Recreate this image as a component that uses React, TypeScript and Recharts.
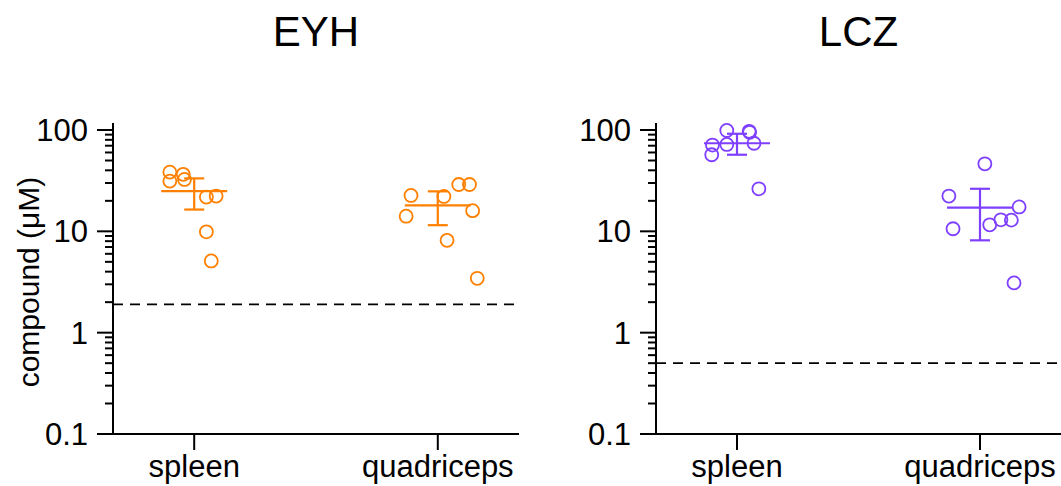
import React from "react";
import { ScatterChart, Scatter, XAxis, YAxis, ErrorBar, ReferenceLine } from "recharts";

const FONT = "'Liberation Sans', Arial, sans-serif";

const tissues = ["spleen", "quadriceps"];
const majorTicks = [0.1, 1, 10, 100];
const yTicks = [
  0.1, 0.2, 0.3, 0.4, 0.5, 0.6, 0.7, 0.8, 0.9,
  1, 2, 3, 4, 5, 6, 7, 8, 9,
  10, 20, 30, 40, 50, 60, 70, 80, 90, 100,
];

// EYH, per tissue: measured values and horizontal jitter (category units)
const eyhSpleen = [38.4, 36.5, 31.3, 32.5, 21.8, 22.3, 9.9, 5.1];
const eyhSpleenJitter = [-0.1, -0.045, -0.1, -0.04, 0.05, 0.09, 0.05, 0.07];
const eyhQuad = [22.6, 14.1, 22.1, 29.0, 29.0, 16.0, 8.15, 3.44];
const eyhQuadJitter = [-0.11, -0.13, 0.025, 0.086, 0.13, 0.143, 0.038, 0.162];
const eyhMean = [24.9, 18.0];
const eyhLow = [16.4, 11.5];
const eyhHigh = [33.3, 24.8];
const eyhLimit = 1.9;

// LCZ
const lczSpleen = [99, 97, 95, 71, 57, 72, 74, 26.3];
const lczSpleenJitter = [-0.042, 0.05, 0.052, -0.101, -0.104, -0.042, 0.07, 0.09];
const lczQuad = [46.4, 22.3, 10.6, 11.6, 13.0, 12.9, 17.4, 3.1];
const lczQuadJitter = [0.02, -0.128, -0.111, 0.04, 0.086, 0.129, 0.161, 0.14];
const lczMean = [74, 17.1];
const lczLow = [57, 8.15];
const lczHigh = [91.8, 26.3];
const lczLimit = 0.5;

const YTick = (props: any) => {
  const { x, y, payload } = props;
  const v = payload.value;
  const major = majorTicks.some((m) => Math.abs(m - v) < 1e-9);
  const axisX = x + 23;
  return (
    <g>
      <line x1={major ? axisX - 16 : axisX - 8} x2={axisX} y1={y} y2={y} stroke="#000" strokeWidth={2} />
      {v === 100 && <line x1={axisX} x2={axisX} y1={y - 7} y2={y} stroke="#000" strokeWidth={2} />}
      {major && (
        <text x={x - 2} y={y} dy="0.36em" textAnchor="end" fontSize={31} fontFamily={FONT} fill="#000">
          {String(v)}
        </text>
      )}
    </g>
  );
};

interface PanelProps {
  title: string;
  color: string;
  values: number[][];
  jitters: number[][];
  mean: number[];
  low: number[];
  high: number[];
  limit: number;
  width: number;
  right: number;
  left: number;
}

const Panel = ({ title, color, values, jitters, mean, low, high, limit, width, right, left }: PanelProps) => {
  const points = values.flatMap((vals, i) => vals.map((v, j) => ({ x: i + jitters[i][j], y: v })));
  const summary = tissues.map((t, i) => ({
    x: i,
    y: mean[i],
    err: [mean[i] - low[i], high[i] - mean[i]],
  }));

  return (
    <div style={{ position: "absolute", left, top: 0, width, height: 486 }}>
      <div
        style={{
          position: "absolute",
          left: 113,
          top: 11,
          width: width - 113 - right,
          textAlign: "center",
          fontFamily: FONT,
          fontSize: 42,
          lineHeight: "42px",
          color: "#000",
        }}
      >
        {title}
      </div>
      <ScatterChart width={width} height={486} margin={{ top: 130, right, bottom: 0, left: 13 }}>
        <XAxis
          type="number"
          dataKey="x"
          domain={[-1 / 3, 4 / 3]}
          ticks={[0, 1]}
          interval={0}
          tickFormatter={(v: number) => tissues[v] ?? ""}
          height={52}
          tickSize={16}
          tickMargin={5}
          axisLine={{ stroke: "#000", strokeWidth: 2 }}
          tickLine={{ stroke: "#000", strokeWidth: 2 }}
          tick={{ fontSize: 31, fontFamily: FONT, fill: "#000" }}
        />
        <YAxis
          type="number"
          dataKey="y"
          scale="log"
          domain={[0.1, 100]}
          ticks={yTicks}
          interval={0}
          width={100}
          tickSize={16}
          tickMargin={7}
          tickLine={false}
          axisLine={{ stroke: "#000", strokeWidth: 2 }}
          tick={(p: any) => <YTick {...p} />}
        />
        <ReferenceLine y={limit} stroke="#000" strokeWidth={1.8} strokeDasharray="10 7" />
        <Scatter
          data={points}
          isAnimationActive={false}
          shape={(p: any) => (
            <circle cx={p.cx} cy={p.cy} r={6.5} fill="none" stroke={color} strokeWidth={1.8} />
          )}
        />
        <Scatter
          data={summary}
          isAnimationActive={false}
          shape={(p: any) => (
            <line x1={p.cx - 33} x2={p.cx + 33} y1={p.cy} y2={p.cy} stroke={color} strokeWidth={2.2} />
          )}
        >
          <ErrorBar dataKey="err" direction="y" width={10} stroke={color} strokeWidth={2.2} isAnimationActive={false} />
        </Scatter>
      </ScatterChart>
    </div>
  );
};

export default function App() {
  return (
    <div style={{ position: "absolute", left: 0, top: 0, width: 1061, height: 486, background: "#fff" }}>
      <Panel
        title="EYH"
        color="#FF8000"
        values={[eyhSpleen, eyhQuad]}
        jitters={[eyhSpleenJitter, eyhQuadJitter]}
        mean={eyhMean}
        low={eyhLow}
        high={eyhHigh}
        limit={eyhLimit}
        left={0}
        width={530}
        right={11}
      />
      <Panel
        title="LCZ"
        color="#7F3FFF"
        values={[lczSpleen, lczQuad]}
        jitters={[lczSpleenJitter, lczQuadJitter]}
        mean={lczMean}
        low={lczLow}
        high={lczHigh}
        limit={lczLimit}
        left={543}
        width={518}
        right={0}
      />
      <svg style={{ position: "absolute", left: 0, top: 0 }} width={60} height={486}>
        <text
          transform="translate(38.5,282) rotate(-90)"
          textAnchor="middle"
          fontSize={30}
          fontFamily={FONT}
          fill="#000"
        >
          compound (μM)
        </text>
      </svg>
    </div>
  );
}
